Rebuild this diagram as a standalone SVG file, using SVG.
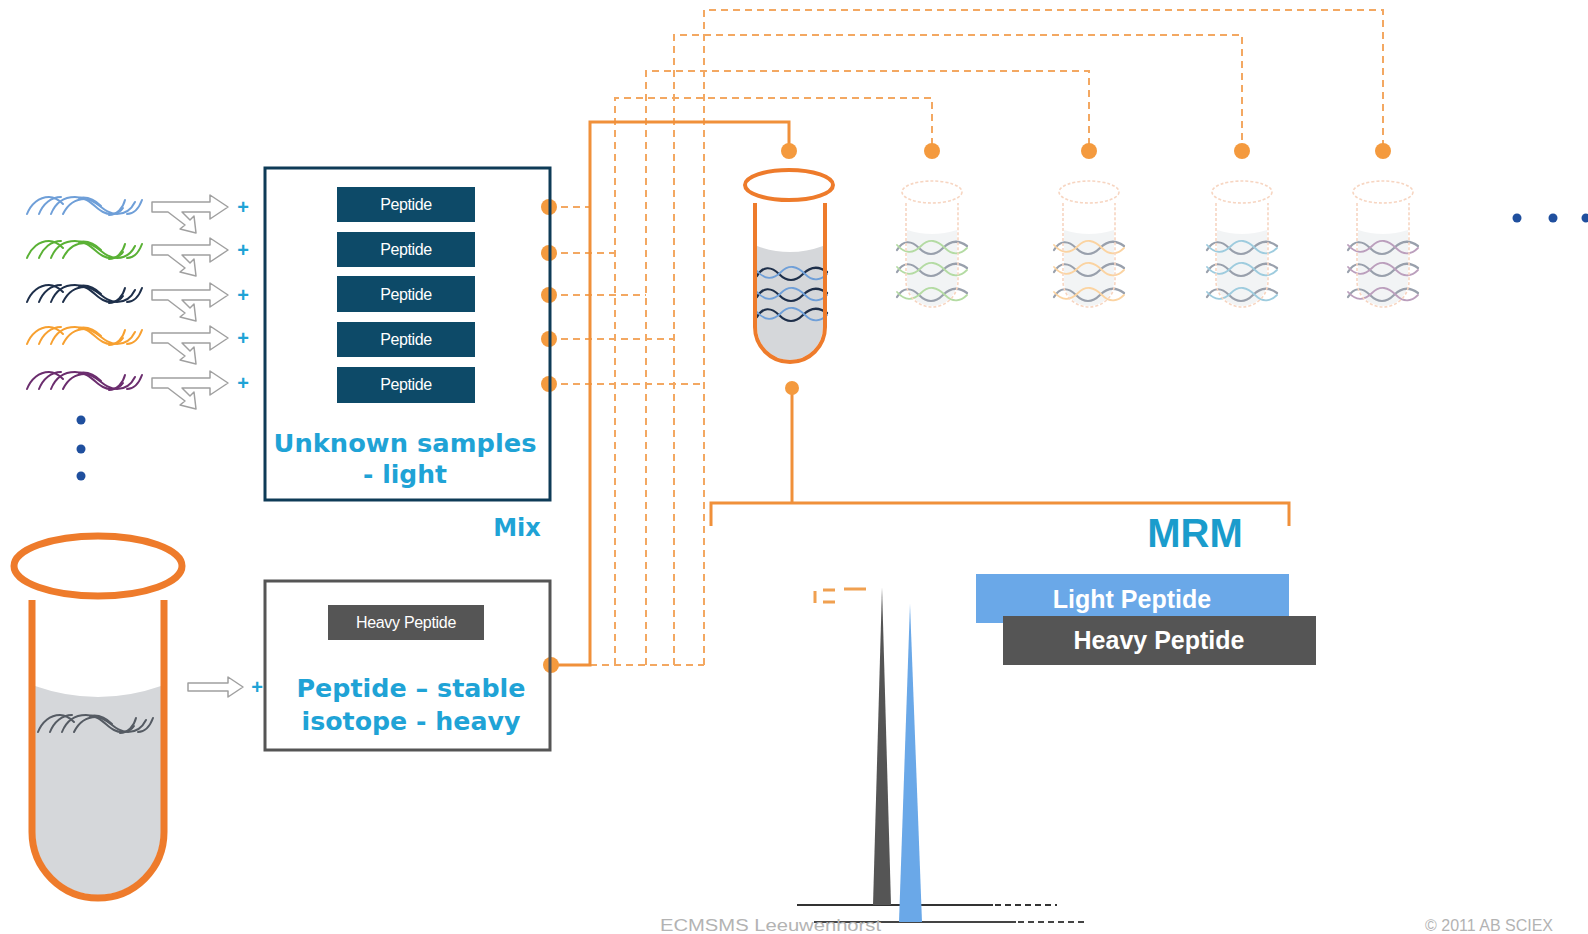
<svg xmlns="http://www.w3.org/2000/svg" width="1588" height="934" viewBox="0 0 1588 934">
<defs>
<style>
.cyan{fill:#1fa3d6;font-family:"DejaVu Sans",sans-serif;font-weight:bold;text-anchor:middle;}
.lab{font-family:"Liberation Sans",Arial,sans-serif;fill:#ffffff;text-anchor:middle;}
.dash{fill:none;stroke:#f3a862;stroke-width:2;stroke-dasharray:7 5;}
.solid{fill:none;stroke:#f0903a;stroke-width:3;}
.dot{fill:#f49a3e;}
.tube{fill:none;stroke:#ee7b2b;}
.liquid{fill:#d5d7da;}
.hx{fill:none;stroke:currentColor;stroke-width:2;stroke-linecap:round;}
.arrow{fill:#ffffff;stroke:#a0a0a0;stroke-width:1.5;stroke-linejoin:round;}
.plus{fill:#1fa3d6;font-family:"Liberation Sans",sans-serif;font-size:20px;font-weight:bold;text-anchor:middle;}
.faded{opacity:0.45;}
.ftube{fill:none;stroke:#eea478;stroke-width:1.6;stroke-dasharray:3 2;}
.foot{fill:#b3b3b3;font-family:"Liberation Sans",Arial,sans-serif;font-size:16px;}
.bl{fill:#1f4f9e;}
</style>
<!-- peptide strand scribble, drawn in currentColor -->
<symbol id="helix" overflow="visible">
<path class="hx" d="M0,20 C4,10 12,3 22,3 C28,3 32,6 36,10"/>
<path class="hx" d="M12,20 C16,10 24,3 34,3"/>
<path class="hx" d="M24,20 C28,10 36,3 48,3 C62,3 68,14 76,18 C84,22 92,20 96,14"/>
<path class="hx" d="M36,20 C40,12 46,5 58,5 C70,5 76,20 90,20 C98,20 104,16 108,8"/>
<path class="hx" d="M52,4 C62,2 70,8 74,12"/>
<path class="hx" d="M82,21 C90,21 96,14 98,6"/>
<path class="hx" d="M100,20 C108,20 112,14 115,6"/>
</symbol>
<!-- two-strand wave used inside tubes -->
<symbol id="wave" overflow="visible">
<path fill="none" stroke="#1e2f4a" stroke-width="2.2" stroke-linecap="round" d="M0,10 C6,0 14,0 22,8 C30,16 38,16 46,8 C54,0 62,0 70,6"/>
<path fill="none" stroke="currentColor" stroke-width="1.8" stroke-linecap="round" d="M0,5 C8,14 16,14 24,6 C32,-2 40,0 48,8 C56,16 64,14 70,8"/>
</symbol>
<!-- hollow arrow with a split branch -->
<symbol id="fork" overflow="visible">
<path class="arrow" d="M0,-5 H58 V-12 L76,0 L58,12 V5 H30 L38,13 L42,9 L44,26 L28,22 L33,18 L16,5 H0 Z"/>
</symbol>
</defs>

<rect width="1588" height="934" fill="#ffffff"/>

<!-- connectors -->
<g id="connectors">
<path class="dash" d="M549,207 H590"/>
<path class="dash" d="M549,253 H615"/>
<path class="dash" d="M549,295 H646"/>
<path class="dash" d="M549,339 H674"/>
<path class="dash" d="M549,384 H704"/>
<path class="dash" d="M615,665 V98 H932 V151"/>
<path class="dash" d="M646,665 V71 H1089 V151"/>
<path class="dash" d="M674,665 V35 H1242 V151"/>
<path class="dash" d="M704,665 V10 H1383 V151" stroke="#efb58a"/>
<path class="dash" d="M590,665 H704"/>
<path class="solid" d="M551,665 H590 V122 H789 V151"/>
<path class="solid" d="M792,388 V503"/>
<path class="solid" d="M711,526 V503 H1289 V526"/>
<circle class="dot" cx="549" cy="207" r="8"/>
<circle class="dot" cx="549" cy="253" r="8"/>
<circle class="dot" cx="549" cy="295" r="8"/>
<circle class="dot" cx="549" cy="339" r="8"/>
<circle class="dot" cx="549" cy="384" r="8"/>
<circle class="dot" cx="551" cy="665" r="8"/>
<circle class="dot" cx="789" cy="151" r="8"/>
<circle class="dot" cx="932" cy="151" r="8"/>
<circle class="dot" cx="1089" cy="151" r="8"/>
<circle class="dot" cx="1242" cy="151" r="8"/>
<circle class="dot" cx="1383" cy="151" r="8"/>
<circle class="dot" cx="792" cy="388" r="7"/>
</g>

<!-- sample strands with split arrows -->
<g id="samples">
<use href="#helix" x="27" y="194" style="color:#6f9fd8"/>
<use href="#helix" x="27" y="238" style="color:#5ab135"/>
<use href="#helix" x="27" y="282" style="color:#1e2f4a"/>
<use href="#helix" x="27" y="324" style="color:#f7a030"/>
<use href="#helix" x="27" y="369" style="color:#6b2d6e"/>
<use href="#fork" x="152" y="207"/>
<use href="#fork" x="152" y="250"/>
<use href="#fork" x="152" y="295"/>
<use href="#fork" x="152" y="338"/>
<use href="#fork" x="152" y="383"/>
<text class="plus" x="243" y="214">+</text>
<text class="plus" x="243" y="257">+</text>
<text class="plus" x="243" y="302">+</text>
<text class="plus" x="243" y="345">+</text>
<text class="plus" x="243" y="390">+</text>
<circle class="bl" cx="81" cy="420" r="4.5"/>
<circle class="bl" cx="81" cy="449" r="4.5"/>
<circle class="bl" cx="81" cy="476" r="4.5"/>
</g>

<!-- unknown samples box -->
<g id="unknown-box">
<rect x="265" y="168" width="285" height="332" fill="none" stroke="#0e3b57" stroke-width="3"/>
<rect x="337" y="187" width="138" height="35" fill="#0d4a68"/>
<rect x="337" y="232" width="138" height="35" fill="#0d4a68"/>
<rect x="337" y="276" width="138" height="36" fill="#0d4a68"/>
<rect x="337" y="322" width="138" height="35" fill="#0d4a68"/>
<rect x="337" y="367" width="138" height="36" fill="#0d4a68"/>
<text class="lab" x="406" y="210" font-size="16" letter-spacing="-0.4">Peptide</text>
<text class="lab" x="406" y="255" font-size="16" letter-spacing="-0.4">Peptide</text>
<text class="lab" x="406" y="300" font-size="16" letter-spacing="-0.4">Peptide</text>
<text class="lab" x="406" y="345" font-size="16" letter-spacing="-0.4">Peptide</text>
<text class="lab" x="406" y="390" font-size="16" letter-spacing="-0.4">Peptide</text>
<text class="cyan" x="405" y="452" font-size="25" textLength="263" lengthAdjust="spacingAndGlyphs">Unknown samples</text>
<text class="cyan" x="405" y="483" font-size="25">- light</text>
</g>

<text id="mix" class="cyan" x="517" y="536" font-size="24">Mix</text>

<!-- heavy isotope box -->
<g id="heavy-box">
<rect x="265" y="581" width="285" height="169" fill="none" stroke="#555555" stroke-width="3"/>
<rect x="328" y="605" width="156" height="35" fill="#555555"/>
<text class="lab" x="406" y="628" font-size="16" letter-spacing="-0.3">Heavy Peptide</text>
<text class="cyan" x="411" y="697" font-size="25" textLength="229" lengthAdjust="spacingAndGlyphs">Peptide – stable</text>
<text class="cyan" x="411" y="730" font-size="25" textLength="219" lengthAdjust="spacingAndGlyphs">isotope - heavy</text>
</g>

<!-- standard tube -->
<g id="standard-tube">
<path class="liquid" d="M35,686 Q98,708 161,686 V832 A63,63 0 0 1 35,832 Z"/>
<use href="#helix" x="38" y="712" style="color:#555b63"/>
<path class="tube" stroke-width="7" d="M32,600 V832 A66,66 0 0 0 164,832 V600"/>
<ellipse class="tube" stroke-width="7" cx="98" cy="566" rx="84" ry="30"/>
<path class="arrow" d="M188,683 H228 V677 L243,687 L228,697 V691 H188 Z"/>
<text class="plus" x="257" y="694">+</text>
</g>

<!-- mixed sample tube -->
<g id="mix-tube">
<path class="liquid" d="M757,246 Q790,258 823,246 V327 A33,33 0 0 1 757,327 Z"/>
<use href="#wave" x="757" y="266" style="color:#6f9fd8"/>
<use href="#wave" x="757" y="287" style="color:#6f9fd8"/>
<use href="#wave" x="757" y="307" style="color:#6f9fd8"/>
<path class="tube" stroke-width="4" d="M755,203 V327 A35,35 0 0 0 825,327 V203"/>
<ellipse class="tube" stroke-width="4" cx="789" cy="185" rx="44" ry="15"/>
</g>

<!-- single sample tubes -->
<g id="tube-2" class="faded">
<path fill="#e4e8ea" d="M907,230 Q932,238 957,230 V281 A25,25 0 0 1 907,281 Z"/>
<use href="#wave" x="897" y="240" style="color:#5ab135"/>
<use href="#wave" x="897" y="262" style="color:#5ab135"/>
<use href="#wave" x="897" y="287" style="color:#5ab135"/>
<path class="ftube" d="M906,203 V281 A26,26 0 0 0 958,281 V203"/>
<ellipse class="ftube" cx="932" cy="192" rx="30" ry="11"/>
</g>
<g id="tube-3" class="faded">
<path fill="#e4e8ea" d="M1064,230 Q1089,238 1114,230 V281 A25,25 0 0 1 1064,281 Z"/>
<use href="#wave" x="1054" y="240" style="color:#f7a030"/>
<use href="#wave" x="1054" y="262" style="color:#f7a030"/>
<use href="#wave" x="1054" y="287" style="color:#f7a030"/>
<path class="ftube" d="M1063,203 V281 A26,26 0 0 0 1115,281 V203"/>
<ellipse class="ftube" cx="1089" cy="192" rx="30" ry="11"/>
</g>
<g id="tube-4" class="faded">
<path fill="#e4e8ea" d="M1217,230 Q1242,238 1267,230 V281 A25,25 0 0 1 1217,281 Z"/>
<use href="#wave" x="1207" y="240" style="color:#2a8fb8"/>
<use href="#wave" x="1207" y="262" style="color:#2a8fb8"/>
<use href="#wave" x="1207" y="287" style="color:#2a8fb8"/>
<path class="ftube" d="M1216,203 V281 A26,26 0 0 0 1268,281 V203"/>
<ellipse class="ftube" cx="1242" cy="192" rx="30" ry="11"/>
</g>
<g id="tube-5" class="faded">
<path fill="#e4e8ea" d="M1358,230 Q1383,238 1408,230 V281 A25,25 0 0 1 1358,281 Z"/>
<use href="#wave" x="1348" y="240" style="color:#6b2d6e"/>
<use href="#wave" x="1348" y="262" style="color:#6b2d6e"/>
<use href="#wave" x="1348" y="287" style="color:#6b2d6e"/>
<path class="ftube" d="M1357,203 V281 A26,26 0 0 0 1409,281 V203"/>
<ellipse class="ftube" cx="1383" cy="192" rx="30" ry="11"/>
</g>

<g id="more-tubes">
<circle class="bl" cx="1517" cy="218" r="4.5"/>
<circle class="bl" cx="1553" cy="218" r="4.5"/>
<circle class="bl" cx="1586" cy="218" r="4.5"/>
</g>

<!-- MRM readout -->
<g id="mrm">
<text x="1195" y="547" font-family="Liberation Sans, Arial, sans-serif" font-weight="bold" font-size="40" fill="#1a9ccc" text-anchor="middle">MRM</text>
<rect x="976" y="574" width="313" height="49" fill="#6aa8e8"/>
<text class="lab" x="1132" y="608" font-size="25" font-weight="bold">Light Peptide</text>
<rect x="1003" y="616" width="313" height="49" fill="#555555"/>
<text class="lab" x="1159" y="649" font-size="25" font-weight="bold">Heavy Peptide</text>
</g>

<!-- chromatogram -->
<g id="chromatogram">
<path d="M797,905 H993" stroke="#333333" stroke-width="2"/>
<path d="M995,905 H1057" stroke="#333333" stroke-width="2" stroke-dasharray="6 4"/>
<path d="M814,922 H1016" stroke="#444444" stroke-width="2"/>
<path d="M1018,922 H1085" stroke="#444444" stroke-width="2" stroke-dasharray="6 4"/>
<polygon points="873,905 882,587 891,905" fill="#555555"/>
<polygon points="899,922 910,604 922,922" fill="#6aa8e8"/>
<path d="M815,591 V603 M823,590 H835 M823,602 H835 M844,589 H866" stroke="#f0a050" stroke-width="3" fill="none"/>
</g>

<g id="footer">
<text class="foot" x="660" y="931" textLength="221" lengthAdjust="spacingAndGlyphs">ECMSMS Leeuwenhorst</text>
<text class="foot" x="1425" y="931">© 2011 AB SCIEX</text>
</g>
</svg>
